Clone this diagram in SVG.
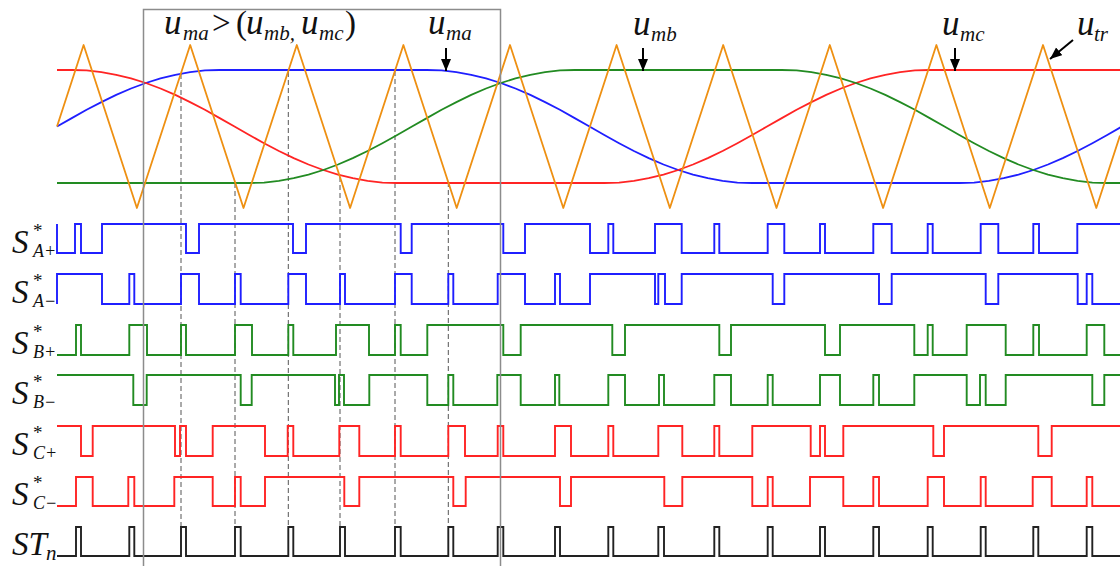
<svg xmlns="http://www.w3.org/2000/svg" width="1120" height="566" viewBox="0 0 1120 566">
<style>
.t{font-family:"Liberation Serif","Times New Roman",serif;font-style:italic;fill:#111}
.n{font-family:"Liberation Serif","Times New Roman",serif;fill:#111}
.big{font-size:33px}
.uu{font-size:35px}
.sub{font-size:21px}
.lsub{font-size:18px}
.ast{font-family:"Liberation Serif","Times New Roman",serif;font-size:19px;fill:#111}
.wave{fill:none;stroke-width:1.8;stroke-linejoin:round}
.pulse{fill:none;stroke-width:1.9;stroke-linejoin:miter}
.blue{stroke:#1f1fff}
.red{stroke:#ff2424}
.green{stroke:#228b22}
.orange{stroke:#ee9012}
.black{stroke:#222}
.dash{stroke:#555;stroke-width:1;stroke-dasharray:5 3;fill:none}
.arr{stroke:#000;stroke-width:2;fill:none;marker-end:url(#ah)}
</style>
<defs>
<marker id="ah" markerUnits="userSpaceOnUse" markerWidth="13" markerHeight="11" refX="12" refY="5" orient="auto">
<path d="M0,0 L12,5 L0,10 z" fill="#000"/>
</marker>
</defs>

<g id="guides">
<line class="dash" x1="181" y1="74" x2="181" y2="527"/>
<line class="dash" x1="235" y1="183" x2="235" y2="527"/>
<line class="dash" x1="288.3" y1="72" x2="288.3" y2="527"/>
<line class="dash" x1="340" y1="177" x2="340" y2="527"/>
<line class="dash" x1="395" y1="71" x2="395" y2="527"/>
<line class="dash" x1="448.3" y1="182" x2="448.3" y2="527"/>
</g>

<g id="modulating">
<polyline class="wave blue" points="57,126.5 71.8,118.1 86.6,109.8 101.4,102.1 116.2,94.9 131,88.5 145.8,83 160.5,78.4 175.3,74.8 190.1,72.2 204.9,70.3 219.7,70 426.8,70 441.6,70.3 456.4,72.2 471.2,74.8 486,78.4 500.8,83 515.5,88.5 530.3,94.9 545.1,102.1 559.9,109.8 574.7,118.1 589.5,126.5 604.3,135 619.1,143.2 633.9,151 648.7,158.1 663.5,164.5 678.3,170 693,174.6 707.8,178.2 722.6,180.8 737.4,182.7 752.2,183 959.3,183 974.1,182.7 988.9,180.8 1003.7,178.2 1018.5,174.6 1033.3,170 1048,164.5 1062.8,158.1 1077.6,151 1092.4,143.2 1107.2,135 1122,126.5"/>
<polyline class="wave red" points="57,70 71.8,70 86.6,70.3 101.4,72.2 116.2,74.8 131,78.4 145.8,83 160.5,88.5 175.3,94.9 190.1,102.1 204.9,109.8 219.7,118.1 234.5,126.5 249.3,135 264.1,143.2 278.9,151 293.7,158.1 308.5,164.5 323.3,170 338,174.6 352.8,178.2 367.6,180.8 382.4,182.7 397.2,183 604.3,183 619.1,182.7 633.9,180.8 648.7,178.2 663.5,174.6 678.3,170 693,164.5 707.8,158.1 722.6,151 737.4,143.2 752.2,135 767,126.5 781.8,118.1 796.6,109.8 811.4,102.1 826.2,94.9 841,88.5 855.8,83 870.5,78.4 885.3,74.8 900.1,72.2 914.9,70.3 929.7,70 1122,70"/>
<polyline class="wave green" points="57,183 249.3,183 264.1,182.7 278.9,180.8 293.7,178.2 308.5,174.6 323.3,170 338,164.5 352.8,158.1 367.6,151 382.4,143.2 397.2,135 412,126.5 426.8,118.1 441.6,109.8 456.4,102.1 471.2,94.9 486,88.5 500.8,83 515.5,78.4 530.3,74.8 545.1,72.2 559.9,70.3 574.7,70 781.8,70 796.6,70.3 811.4,72.2 826.2,74.8 841,78.4 855.8,83 870.5,88.5 885.3,94.9 900.1,102.1 914.9,109.8 929.7,118.1 944.5,126.5 959.3,135 974.1,143.2 988.9,151 1003.7,158.1 1018.5,164.5 1033.3,170 1048,174.6 1062.8,178.2 1077.6,180.8 1092.4,182.7 1107.2,183 1122,183"/>
</g>

<g id="carrier">
<polyline class="wave orange" points="57,126.5 83.6,45 136.9,208 190.2,45 243.5,208 296.8,45 350.1,208 403.4,45 456.7,208 510,45 563.3,208 616.6,45 669.9,208 723.2,45 776.5,208 829.8,45 883.1,208 936.4,45 989.7,208 1043,45 1096.3,208 1120,135.5"/>
</g>

<g id="pulses">
<path class="pulse blue" d="M57,224 V253 H75 V224 H81 V253 H102 V224 H186 V253 H199 V224 H293 V253 H306 V224 H400.7 V253 H411.7 V224 H503.3 V253 H525 V224 H590 V253 H608.3 V224 H613.3 V253 H655 V224 H681.7 V253 H714.3 V224 H719.3 V253 H767.7 V224 H784.3 V253 H820 V224 H825 V253 H873.3 V224 H891.7 V253 H927.7 V224 H932.7 V253 H980.7 V224 H998.3 V253 H1033.3 V224 H1039 V253 H1077.3 V224 H1120"/>
<path class="pulse blue" d="M57,304 V274 H102 V304 H129.3 V274 H134.3 V304 H181 V274 H199 V304 H235 V274 H240.7 V304 H288.3 V274 H306 V304 H340 V274 H345 V304 H395 V274 H411.7 V304 H448.3 V274 H453.3 V304 H497.7 V274 H525 V304 H555 V274 H560 V304 H590 V274 H655 V304 H658.3 V274 H665 V304 H681.7 V274 H772.7 V304 H784.3 V274 H879 V304 H891.7 V274 H985.7 V304 H998.3 V274 H1077.7 V304 H1086.7 V274 H1092.3 V304 H1120"/>
<path class="pulse green" d="M57,355 H76 V325 H81 V355 H129.3 V325 H147 V355 H181 V325 H186 V355 H235 V325 H252 V355 H288.3 V325 H293.3 V355 H336 V325 H369 V355 H395 V325 H400.7 V355 H427.3 V325 H503.3 V355 H520.7 V325 H612.3 V355 H625 V325 H719.3 V355 H731 V325 H825 V355 H840 V325 H914.3 V355 H927.7 V325 H932.7 V355 H966.7 V325 H1005.7 V355 H1033.3 V325 H1039 V355 H1086.7 V325 H1104.3 V355 H1120"/>
<path class="pulse green" d="M57,375 H133.3 V405 H146.7 V375 H240.7 V405 H251.7 V375 H335 V405 H339 V375 H344 V405 H369.3 V375 H427.3 V405 H448.3 V375 H453.3 V405 H497.3 V375 H520.7 V405 H555 V375 H559.3 V405 H608.3 V375 H625 V405 H659 V375 H664 V405 H714.3 V375 H731 V405 H767.7 V375 H772.7 V405 H820 V375 H840 V405 H873.3 V375 H879 V405 H914.3 V375 H966.7 V405 H980 V375 H985.7 V405 H1005.7 V375 H1092.3 V405 H1104.3 V375 H1120"/>
<path class="pulse red" d="M57,426 H81 V456 H92.7 V426 H175 V456 H180 V426 H186 V456 H212.7 V426 H265 V456 H287.7 V426 H293.3 V456 H339.3 V426 H359.3 V456 H395 V426 H400.7 V456 H448.3 V426 H465 V456 H497.7 V426 H503.3 V456 H555 V426 H571 V456 H608.3 V426 H613.3 V456 H658.3 V426 H682.3 V456 H714.3 V426 H719.3 V456 H752.3 V426 H810.7 V456 H820 V426 H825 V456 H843.3 V426 H933.3 V456 H944 V426 H1038.3 V456 H1051.7 V426 H1120"/>
<path class="pulse red" d="M57,506 H76 V477 H92.7 V506 H128.3 V477 H134.3 V506 H174.3 V477 H212.7 V506 H235 V477 H240.7 V506 H265 V477 H344.3 V506 H359.3 V477 H453.3 V506 H465.7 V477 H560 V506 H571 V477 H664.3 V506 H682.3 V477 H752.3 V506 H767.7 V477 H772.7 V506 H810 V477 H843.3 V506 H873.3 V477 H879 V506 H927.7 V477 H944 V506 H980.7 V477 H985.7 V506 H1032.7 V477 H1051.7 V506 H1086.7 V477 H1092.3 V506 H1120"/>
<path class="pulse black" d="M57,556 H76 V527 H81 V556 H129.3 V527 H134.3 V556 H181 V527 H186 V556 H235 V527 H240.7 V556 H288.3 V527 H293.3 V556 H340 V527 H345 V556 H395 V527 H400.7 V556 H448.3 V527 H453.3 V556 H497.7 V527 H503.3 V556 H555 V527 H560 V556 H608.3 V527 H613.3 V556 H658.3 V527 H664 V556 H714.3 V527 H719.3 V556 H767.7 V527 H772.7 V556 H820 V527 H825 V556 H873.3 V527 H879 V556 H927.7 V527 H932.7 V556 H980.7 V527 H985.7 V556 H1033.3 V527 H1038.3 V556 H1086.7 V527 H1092.3 V556 H1120"/>
</g>

<g id="window">
<rect x="143.5" y="9.5" width="357" height="570" fill="none" stroke="#8c8c8c" stroke-width="1.5"/>
</g>

<g id="connectors">
<line class="arr" x1="446" y1="48" x2="446" y2="71"/>
<line class="arr" x1="643" y1="48" x2="643" y2="71"/>
<line class="arr" x1="955" y1="48" x2="955" y2="71"/>
<line class="arr" x1="1073" y1="40" x2="1050" y2="59"/>
</g>

<g id="top-labels">
<text class="t uu" x="164" y="34">u</text><text class="t sub" x="183" y="40">ma</text>
<text class="n big" x="212" y="34">&gt;</text>
<text class="n big" x="236" y="34">(</text>
<text class="t uu" x="246" y="34">u</text><text class="t sub" x="264" y="40">mb,</text>
<text class="t uu" x="301" y="34">u</text><text class="t sub" x="319" y="40">mc</text>
<text class="n big" x="345" y="34">)</text>
<text class="t uu" x="428" y="34">u</text><text class="t sub" x="446" y="40">ma</text>
<text class="t uu" x="633" y="35">u</text><text class="t sub" x="651" y="41">mb</text>
<text class="t uu" x="942" y="35">u</text><text class="t sub" x="960" y="41">mc</text>
<text class="t uu" x="1077" y="35">u</text><text class="t sub" x="1094" y="41">tr</text>
</g>

<g id="row-labels">
<text class="t big" x="12" y="253">S</text><text class="ast" x="33" y="237">*</text><text class="t lsub" x="33" y="257">A+</text>
<text class="t big" x="12" y="303">S</text><text class="ast" x="33" y="287">*</text><text class="t lsub" x="33" y="307">A−</text>
<text class="t big" x="12" y="354">S</text><text class="ast" x="33" y="338">*</text><text class="t lsub" x="33" y="358">B+</text>
<text class="t big" x="12" y="404">S</text><text class="ast" x="33" y="388">*</text><text class="t lsub" x="33" y="408">B−</text>
<text class="t big" x="12" y="455">S</text><text class="ast" x="33" y="439">*</text><text class="t lsub" x="33" y="459">C+</text>
<text class="t big" x="12" y="505">S</text><text class="ast" x="33" y="489">*</text><text class="t lsub" x="33" y="509">C−</text>
<text class="t big" x="12" y="555">ST</text><text class="t sub" x="46" y="560">n</text>
</g>
</svg>
